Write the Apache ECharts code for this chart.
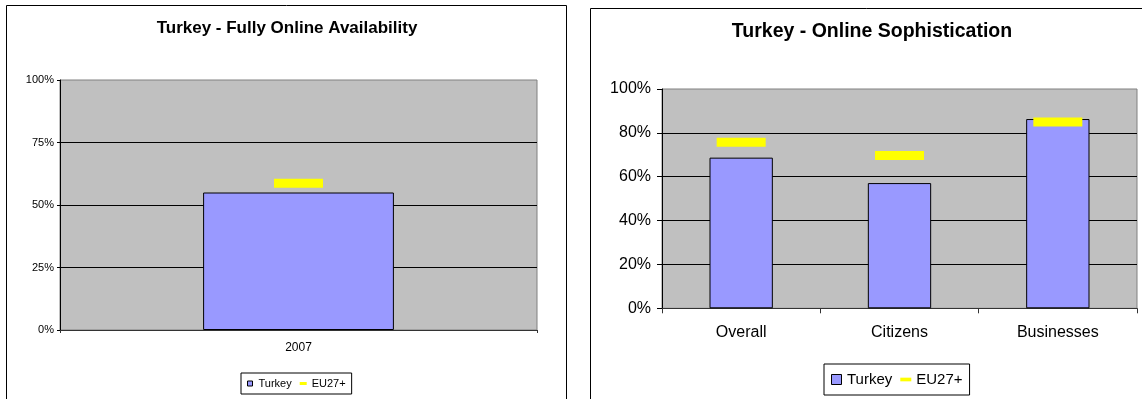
<!DOCTYPE html>
<html>
<head>
<meta charset="utf-8">
<script src="https://cdn.jsdelivr.net/npm/echarts@6/dist/echarts.min.js"></script>
<style>
html,body{margin:0;padding:0;background:#fff;}
#c{width:1142px;height:399px;}
</style>
</head>
<body>
<div id="c"></div>
<script>
// ---- data ----
var availCategories = ['2007'];
var availTurkey = [55];
var availEU = [58.7];
var availTicks = [0, 25, 50, 75, 100];

var sophCategories = ['Overall', 'Citizens', 'Businesses'];
var sophTurkey = [68.7, 57.1, 86.3];
var sophEU = [75.7, 69.7, 84.9];
var sophTicks = [0, 20, 40, 60, 80, 100];

var titles = ['Turkey - Fully Online Availability', 'Turkey - Online Sophistication'];
var seriesNames = ['Turkey', 'EU27+'];

var FONT = '"Liberation Sans", Arial, Helvetica, sans-serif';
var chart = echarts.init(document.getElementById('c'), null, {renderer: 'canvas'});

function yAxis(gi, ticks, fs, tickLen, margin) {
  return {
    type: 'value', gridIndex: gi, min: ticks[0], max: ticks[ticks.length - 1],
    interval: ticks[1] - ticks[0],
    axisLine: {show: true, lineStyle: {color: '#000', width: 1}},
    axisTick: {show: true, inside: false, length: tickLen, lineStyle: {color: '#000'}},
    axisLabel: {formatter: '{value}%', color: '#000', fontSize: fs, fontFamily: FONT, margin: margin},
    splitLine: {show: true, showMaxLine: false, showMinLine: false, lineStyle: {color: '#000', width: 1}}
  };
}
function xAxis(gi, cats, fs, tickLen, margin) {
  return {
    type: 'category', gridIndex: gi, data: cats, boundaryGap: true,
    axisLine: {show: true, lineStyle: {color: '#333', width: 1}},
    axisTick: {show: true, inside: false, length: tickLen, interval: 0, lineStyle: {color: '#333'}},
    axisLabel: {color: '#000', fontSize: fs, fontFamily: FONT, margin: margin, interval: 0},
    splitLine: {show: false}
  };
}

var option = {
  animation: false,
  backgroundColor: '#fff',
  title: [
    {text: titles[0], left: 287, top: 20, textAlign: 'center', padding: 0,
     textStyle: {fontFamily: FONT, fontWeight: 'bold', fontSize: 17, color: '#000'}},
    {text: titles[1], left: 872, top: 22, textAlign: 'center', padding: 0,
     textStyle: {fontFamily: FONT, fontWeight: 'bold', fontSize: 19.5, color: '#000'}}
  ],
  grid: [
    {left: 60, top: 80, width: 477, height: 250, show: true, backgroundColor: '#C0C0C0',
     borderColor: '#808080', borderWidth: 1, containLabel: false},
    {left: 662, top: 89, width: 475, height: 219.3, show: true, backgroundColor: '#C0C0C0',
     borderColor: '#808080', borderWidth: 1, containLabel: false}
  ],
  xAxis: [xAxis(0, availCategories, 12, 3, 12), xAxis(1, sophCategories, 16, 5, 16)],
  yAxis: [yAxis(0, availTicks, 11, 3, 6), yAxis(1, sophTicks, 16, 5, 11)],
  legend: [
    {left: 241, top: 373, orient: 'horizontal', padding: [5, 6, 5, 6], itemGap: 8,
     itemWidth: 7, itemHeight: 5, borderColor: '#000', borderWidth: 1, backgroundColor: '#fff',
     textStyle: {fontFamily: FONT, fontSize: 11, color: '#000'},
     data: [
       {name: seriesNames[0], icon: 'path://M0,0h5v5h-5z', itemStyle: {color: '#9999FF', borderColor: '#000', borderWidth: 1}},
       {name: seriesNames[1], icon: 'path://M0,0h7v3h-7z', itemStyle: {color: '#FFFF00', borderWidth: 0}}
     ]},
    {left: 824, top: 364, orient: 'horizontal', padding: [8, 7, 8, 7], itemGap: 8,
     itemWidth: 11, itemHeight: 10, borderColor: '#000', borderWidth: 1, backgroundColor: '#fff',
     textStyle: {fontFamily: FONT, fontSize: 15, color: '#000'},
     data: [
       {name: seriesNames[0], icon: 'path://M0,0h10v10h-10z', itemStyle: {color: '#9999FF', borderColor: '#000', borderWidth: 1}},
       {name: seriesNames[1], icon: 'path://M0,0h9v3h-9z', itemStyle: {color: '#FFFF00', borderWidth: 0}}
     ]}
  ],
  graphic: [
    {type: 'rect', silent: true, z: -10, shape: {x: 6.5, y: 5.5, width: 560, height: 420},
     style: {fill: 'none', stroke: '#000', lineWidth: 1}},
    {type: 'rect', silent: true, z: -10, shape: {x: 590.5, y: 8.5, width: 580, height: 420},
     style: {fill: 'none', stroke: '#000', lineWidth: 1}}
  ],
  series: [
    {name: seriesNames[0], type: 'bar', xAxisIndex: 0, yAxisIndex: 0, data: availTurkey, barWidth: '40%',
     itemStyle: {color: '#9999FF', borderColor: '#000', borderWidth: 1}},
    {name: seriesNames[1], type: 'scatter', xAxisIndex: 0, yAxisIndex: 0, data: availEU,
     symbol: 'rect', symbolSize: [49, 9], z: 5, itemStyle: {color: '#FFFF00', opacity: 1}},
    {name: seriesNames[0], type: 'bar', xAxisIndex: 1, yAxisIndex: 1, data: sophTurkey, barWidth: '40%',
     itemStyle: {color: '#9999FF', borderColor: '#000', borderWidth: 1}},
    {name: seriesNames[1], type: 'scatter', xAxisIndex: 1, yAxisIndex: 1, data: sophEU,
     symbol: 'rect', symbolSize: [49, 9], z: 5, itemStyle: {color: '#FFFF00', opacity: 1}}
  ]
};
chart.setOption(option);
</script>
</body>
</html>
